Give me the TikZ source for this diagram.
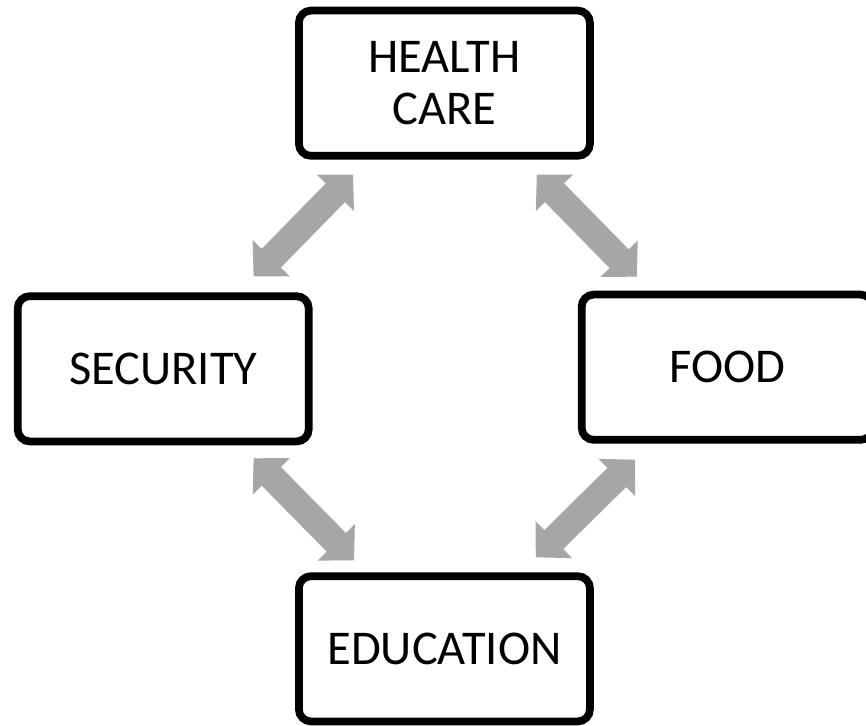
\documentclass[tikz,border=0pt]{standalone}
\usepackage{fontspec}
\setmainfont{Carlito}
\usetikzlibrary{arrows.meta,shadows}

\begin{document}
\begin{tikzpicture}[
        box/.style={draw=black, line width=5.5pt, rounded corners=0.3cm, fill=white,
            minimum width=7.275cm, minimum height=3.63cm, align=center,
            font=\fontsize{34.5}{36.5}\selectfont,
            drop shadow={shadow xshift=1.5pt, shadow yshift=-2.5pt, opacity=0.25}},
        link/.style={draw=black!35, line width=19pt,
            {Triangle[width=36pt,length=18pt]}-{Triangle[width=36pt,length=18pt]}}
    ]

            \useasboundingbox (0,0) rectangle (21.65,-18.125);

            % Boxes
            \node[box] (care) at (11.11,-2.08) {HEALTH\\CARE};
            \node[box] (security) at (4.08,-9.22) {SECURITY};
            \node[box] (food) at (18.18,-9.18) {FOOD};
            \node[box] (education) at (11.11,-16.22) {EDUCATION};

            % Upper arrows
            \draw[link] ([xshift=-1.475cm,yshift=0.4cm]security.north east)
            -- ([xshift=1.45cm,yshift=-0.375cm]care.south west);
            \draw[link] ([xshift=-1.425cm,yshift=-0.375cm]care.south east)
            -- ([xshift=1.475cm,yshift=0.35cm]food.north west);

            % Lower arrows
            \draw[link] ([xshift=-1.475cm,yshift=-0.325cm]security.south east)
            -- ([xshift=1.475cm,yshift=0.3cm]education.north west);
            \draw[link] ([xshift=1.425cm,yshift=-0.4cm]food.south west)
            -- ([xshift=-1.45cm,yshift=0.375cm]education.north east);

        \end{tikzpicture}
\end{document}
